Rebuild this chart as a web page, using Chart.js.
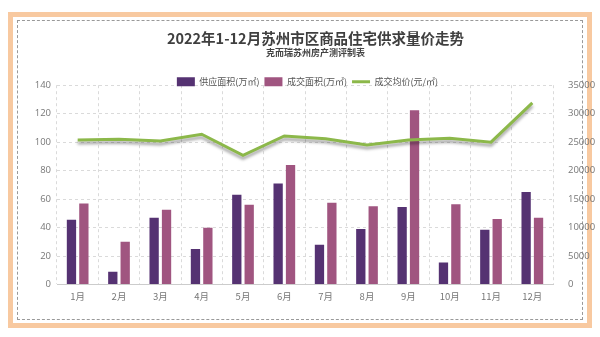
<!DOCTYPE html>
<html>
<head>
<meta charset="utf-8">
<script src="https://cdn.jsdelivr.net/npm/chart.js@4"></script>
<style>
  html, body { margin: 0; padding: 0; background: #fff; }
  #wrap { position: relative; width: 600px; height: 337px; }
  #frame {
    position: absolute; left: 8px; top: 12px; width: 574px; height: 306px;
    border: 5px solid #f8c9a0; background: #fff;
  }
  #inner {
    position: absolute; left: 4px; top: 3px; right: 4px; bottom: 3px;
    border: 1px dashed #999;
  }
  canvas { position: absolute; left: 0; top: 0; }
</style>
</head>
<body>
<div id="wrap">
  <div id="frame"><div id="inner"></div></div>
  <canvas id="chart-area" width="600" height="337"></canvas>
</div>
<script>
// data
var months = ['1月', '2月', '3月', '4月', '5月', '6月', '7月', '8月', '9月', '10月', '11月', '12月'];
var supplyArea = [45.5, 9, 47, 25, 63, 71, 28, 39, 54.5, 15.5, 38.5, 65];
var dealArea = [57, 30, 52.5, 40, 56, 84, 57.5, 55, 122.5, 56.5, 46, 47];
var dealPrice = [25400, 25500, 25200, 26400, 22700, 26100, 25600, 24500, 25400, 25700, 25000, 31900];

var gridColor = '#dadada';
var tickColor = '#777';
var fontFamily = '"Noto Sans CJK SC", "Open Sans", sans-serif';
var tickFont = { family: '"Open Sans", sans-serif', size: 9.5 };

var layoutTweaks = {
    id: 'layoutTweaks',
    beforeInit: function (chart) {
        // legend sits close to the plot area in the original
        var legend = chart.legend;
        var fit = legend.fit;
        legend.fit = function () {
            fit.call(this);
            this.height -= 13;
        };
    },
    afterLayout: function (chart) {
        // legend is a bit left of centre; give back the clip height
        var legend = chart.legend;
        legend.left -= 8;
        legend.right -= 8;
        legend.top -= 2;
        legend.bottom += 13;
    },
    // shadow under the price line
    beforeDatasetDraw: function (chart, args) {
        if (args.index !== 2) return;
        var ctx = chart.ctx;
        ctx.save();
        ctx.shadowColor = 'rgba(0,0,0,0.35)';
        ctx.shadowBlur = 3;
        ctx.shadowOffsetY = 3;
    },
    afterDatasetDraw: function (chart, args) {
        if (args.index !== 2) return;
        chart.ctx.restore();
    }
};

var config = {
    type: 'bar',
    data: {
        labels: months,
        datasets: [{
            label: '供应面积(万㎡)',
            data: supplyArea,
            backgroundColor: '#553272',
            yAxisID: 'y',
            pointStyle: 'rect',
            order: 1
        }, {
            label: '成交面积(万㎡)',
            data: dealArea,
            backgroundColor: '#a05580',
            yAxisID: 'y',
            pointStyle: 'rect',
            order: 1
        }, {
            type: 'line',
            label: '成交均价(元/㎡)',
            data: dealPrice,
            borderColor: '#8cb84a',
            backgroundColor: '#8cb84a',
            borderWidth: 3,
            pointRadius: 0,
            pointStyle: 'line',
            tension: 0,
            yAxisID: 'y1',
            order: 0
        }]
    },
    options: {
        responsive: false,
        animation: false,
        layout: { padding: { left: 31, right: 0, top: 30, bottom: 29 } },
        datasets: {
            bar: { categoryPercentage: 0.6, barPercentage: 0.75 }
        },
        plugins: {
            title: {
                display: true,
                text: '2022年1-12月苏州市区商品住宅供求量价走势',
                color: '#3f3f3f',
                font: { family: fontFamily, size: 14.5, weight: 'bold' },
                padding: { top: 0, bottom: 0 }
            },
            subtitle: {
                display: true,
                text: '克而瑞苏州房产测评制表',
                color: '#444',
                font: { family: fontFamily, size: 9, weight: 'bold' },
                padding: { top: 0, bottom: 16 }
            },
            legend: {
                labels: {
                    usePointStyle: true,
                    pointStyleWidth: 18,
                    boxHeight: 9,
                    padding: 5,
                    color: '#555',
                    font: { family: fontFamily, size: 9 },
                    sort: function (a, b) { return a.datasetIndex - b.datasetIndex; }
                }
            },
            tooltip: { enabled: false }
        },
        scales: {
            x: {
                grid: { color: gridColor, drawTicks: false },
                border: { color: '#ccc', dash: [3, 3] },
                ticks: { color: tickColor, padding: 6, font: { family: fontFamily, size: 9.5 } }
            },
            y: {
                position: 'left',
                min: 0, max: 140,
                ticks: { stepSize: 20, color: tickColor, padding: 6, font: tickFont },
                grid: { color: gridColor, drawTicks: false },
                border: { display: false, dash: [3, 3] },
                afterFit: function (scale) { scale.width = 26; }
            },
            y1: {
                position: 'right',
                min: 0, max: 35000,
                ticks: {
                    stepSize: 5000, color: tickColor, padding: 7,
                    font: tickFont,
                    callback: function (v) { return String(v); }
                },
                grid: { display: false },
                border: { display: false },
                afterFit: function (scale) { scale.width = 47; }
            }
        }
    },
    plugins: [layoutTweaks]
};

var ctx = document.getElementById('chart-area').getContext('2d');
var myChart = new Chart(ctx, config);
</script>
</body>
</html>
